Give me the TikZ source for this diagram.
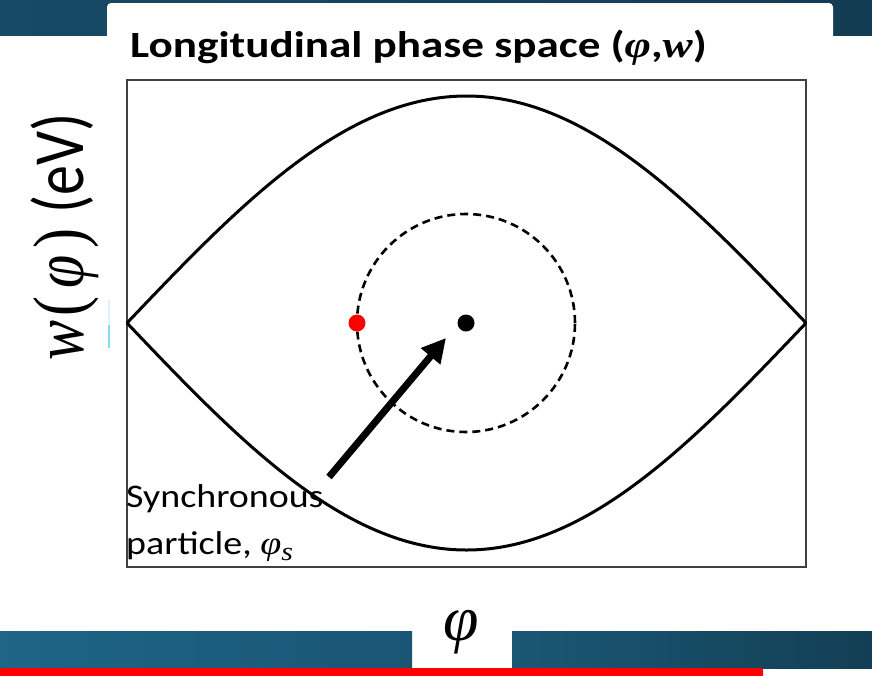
\documentclass[tikz,border=0pt]{standalone}
\usepackage{fontspec}
\setmainfont{Carlito}
\newfontfamily\grfont{Liberation Serif}
\usetikzlibrary{arrows.meta}
\definecolor{topA}{HTML}{174A66}
\definecolor{topB}{HTML}{133C52}
\definecolor{barA}{HTML}{1E6586}
\definecolor{barB}{HTML}{1A5574}
\definecolor{barC}{HTML}{1A5775}
\definecolor{barD}{HTML}{133F54}
\definecolor{boxgray}{HTML}{404040}
\tikzset{
  curve/.style={line width=3pt, line join=round},
  dashcirc/.style={line width=2.6pt, dash pattern=on 8pt off 5pt},
  dot/.style={circle, inner sep=0pt, minimum size=17pt},
  bigarrow/.style={line width=7pt, -{Triangle[length=24pt,width=24pt]}},
}
\begin{document}
\begin{tikzpicture}[x=1pt,y=-1pt]
\useasboundingbox (0,0) rectangle (872,675);
\fill[white] (0,0) rectangle (872,675);
% top band and white panel
\shade[left color=topA, right color=topB] (0,0) rectangle (872,35);
\fill[white, rounded corners=4pt] (107,3) rectangle (833,120);
% bottom bars
\shade[left color=barA, right color=barB] (0,631) rectangle (412,668);
\shade[left color=barC, right color=barD] (512,631) rectangle (872,668);
\fill[red, rounded corners=2pt] (0,668) rectangle (763,680);
% faint mark
\draw[cyan!15, line width=1.2pt] (109,300) -- (109,325);
\draw[cyan!45, line width=1.2pt] (109,325) -- (109,348);
% title
\node[anchor=base west, inner sep=0pt] (title) at (130,57)
  {\scalebox{1.22}[1]{\fontsize{37}{37}\selectfont\bfseries Longitudinal phase space ({\grfont\itshape φ},{\grfont\itshape w})}};
% plot frame
\draw[line width=1.5pt, draw=boxgray] (127,80) rectangle (806,567);
% separatrix
\draw[curve] plot[domain=-180:180, samples=121, smooth] ({466.5+\x/180*339.5},{323-227*cos(\x/2)});
\draw[curve] plot[domain=-180:180, samples=121, smooth] ({466.5+\x/180*339.5},{323+227*cos(\x/2)});
% dashed orbit
\draw[dashcirc] (466,323) circle[radius=109pt];
% particles
\node[dot, fill=red] (test) at (357,323) {};
\node[dot, fill=black] (sync) at (466,323) {};
% arrow
\coordinate (tail) at (329,477);
\coordinate (tip) at (446,338);
\draw[bigarrow] (tail) -- (tip);
% label
\node[anchor=base west, inner sep=0pt] (lab1) at (126,507) {\scalebox{1.15}[1]{\fontsize{33}{33}\selectfont Synchronous}};
\node[anchor=base west, inner sep=0pt] (lab2) at (126,554) {\scalebox{1.15}[1]{\fontsize{33}{33}\selectfont particle, {\grfont\itshape φ\raisebox{-0.2em}{\fontsize{26}{26}\selectfont s}}}};
% axis labels
\node[rotate=90, anchor=base, inner sep=0pt] (ylab) at (83,237)
  {\scalebox{1}[1.2]{\fontsize{60}{60}\selectfont {\grfont\itshape w}\hspace{0.08em}{\grfont(\hspace{0.12em}{\itshape φ}\hspace{0.12em})}\hspace{0.25em}(eV)}};
\node[anchor=base, inner sep=0pt] (xlab) at (461,640) {\fontsize{64}{64}\selectfont\grfont\itshape φ};
\end{tikzpicture}
\end{document}
